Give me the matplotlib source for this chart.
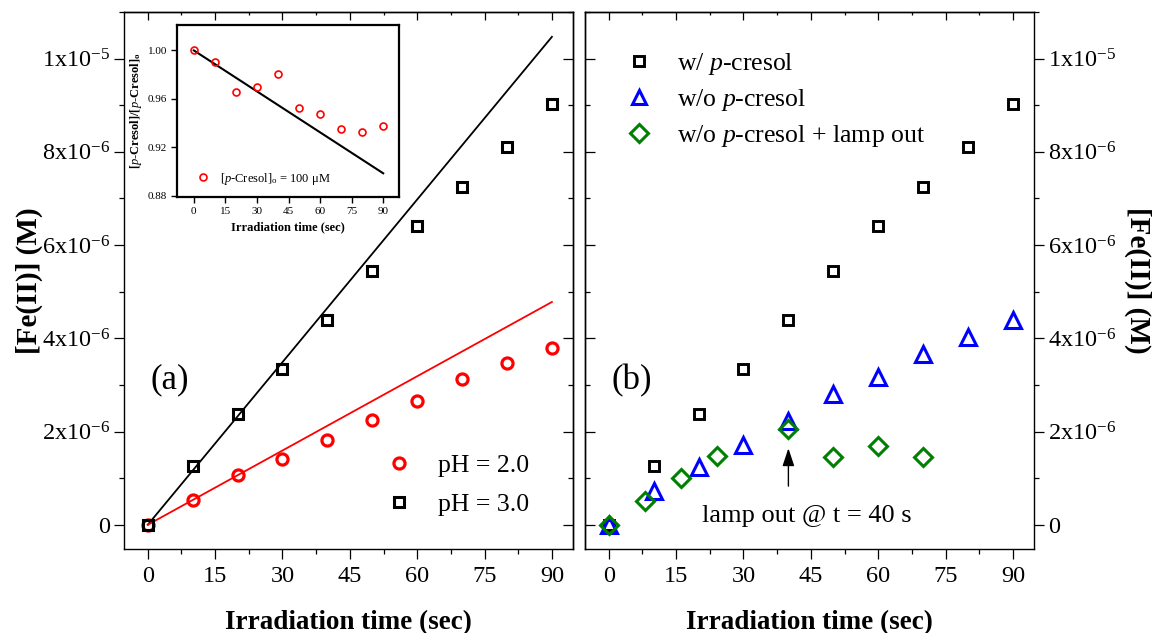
import numpy as np
import matplotlib
matplotlib.use("Agg")
import matplotlib.pyplot as plt
from matplotlib.ticker import MultipleLocator, FuncFormatter

plt.rcParams['font.family'] = ['Liberation Serif', 'DejaVu Serif']
plt.rcParams['mathtext.fontset'] = 'custom'
plt.rcParams['mathtext.rm'] = 'Liberation Serif'
plt.rcParams['mathtext.it'] = 'Liberation Serif:italic'
plt.rcParams['mathtext.bf'] = 'Liberation Serif:bold'
plt.rcParams['mathtext.default'] = 'regular'
plt.rcParams['axes.linewidth'] = 1.0

# ---- data ----
time_s = [0, 10, 20, 30, 40, 50, 60, 70, 80, 90]
fe_ph3 = [0.0, 1.25e-6, 2.38e-6, 3.35e-6, 4.40e-6, 5.44e-6, 6.41e-6, 7.25e-6, 8.11e-6, 9.03e-6]
fe_ph2 = [0.0, 0.54e-6, 1.075e-6, 1.41e-6, 1.81e-6, 2.24e-6, 2.65e-6, 3.12e-6, 3.46e-6, 3.80e-6]
slope_ph3 = 1.163e-7   # initial-rate fit, M/s
slope_ph2 = 5.31e-8

fe_no_cresol = [0.0, 0.73e-6, 1.23e-6, 1.71e-6, 2.22e-6, 2.81e-6, 3.17e-6, 3.67e-6, 4.03e-6, 4.39e-6]
time_lamp_out = [0, 8, 16, 24, 40, 50, 60, 70]
fe_lamp_out = [0.0, 0.52e-6, 1.00e-6, 1.48e-6, 2.06e-6, 1.45e-6, 1.70e-6, 1.46e-6]

cresol_ratio = [1.000, 0.9903, 0.9659, 0.9695, 0.9802, 0.9527, 0.9475, 0.9351, 0.9324, 0.9376]
cresol_slope = -1.127e-3   # per s

y_ticks = [0, 2e-6, 4e-6, 6e-6, 8e-6, 1e-5]
y_tick_labels = ['0', r'$2x10^{-6}$', r'$4x10^{-6}$', r'$6x10^{-6}$', r'$8x10^{-6}$', r'$1x10^{-5}$']
x_ticks = [0, 15, 30, 45, 60, 75, 90]

W, H = 1156, 633
fig = plt.figure(figsize=(W / 100, H / 100), dpi=100)


def frac(x0, y0, x1, y1):
    return [x0 / W, 1 - y1 / H, (x1 - x0) / W, (y1 - y0) / H]


axL = fig.add_axes(frac(124, 12, 573, 549))
axR = fig.add_axes(frac(585, 12, 1034, 549))

tick_fs = 17.5
MAJ, MIN = 7, 3.5
for ax in (axL, axR):
    ax.set_xlim(-5.3, 94.7)
    ax.set_ylim(-0.52e-6, 11.0e-6)
    ax.set_xticks(x_ticks)
    ax.xaxis.set_minor_locator(MultipleLocator(7.5))
    ax.yaxis.set_minor_locator(MultipleLocator(1e-6))
    ax.set_xlabel('Irradiation time (sec)', fontsize=19.5, fontweight='bold', labelpad=17)
    ax.tick_params(axis='x', which='both', direction='out', top=False, labelsize=tick_fs, pad=5, width=0.9)
    ax.tick_params(axis='x', which='major', length=MAJ)
    ax.tick_params(axis='x', which='minor', length=MIN)
    sx = ax.secondary_xaxis('top')
    sx.set_xticks(x_ticks)
    sx.xaxis.set_minor_locator(MultipleLocator(7.5))
    sx.tick_params(which='both', direction='in', labeltop=False, width=0.9)
    sx.tick_params(which='major', length=6)
    sx.tick_params(which='minor', length=2.5)

# left panel y axis: labels on left, inward ticks on right
axL.set_yticks(y_ticks)
axL.set_yticklabels(y_tick_labels)
axL.tick_params(axis='y', which='both', direction='out', right=False, labelsize=tick_fs, width=0.9, pad=3)
axL.tick_params(axis='y', which='major', length=MAJ)
axL.tick_params(axis='y', which='minor', length=MIN)
syL = axL.secondary_yaxis('right')
syL.set_yticks(y_ticks)
syL.yaxis.set_minor_locator(MultipleLocator(1e-6))
syL.tick_params(which='both', direction='in', labelright=False, width=0.9)
syL.tick_params(which='major', length=MAJ)
syL.tick_params(which='minor', length=MIN)
axL.set_ylabel('[Fe(II)] (M)', fontsize=21, fontweight='bold', labelpad=-1)

# right panel y axis: labels on right, inward ticks on left
axR.yaxis.tick_right()
axR.yaxis.set_label_position('right')
axR.set_yticks(y_ticks)
axR.set_yticklabels(y_tick_labels)
axR.tick_params(axis='y', which='both', direction='out', left=False, labelsize=tick_fs, width=0.9, pad=3)
axR.tick_params(axis='y', which='major', length=MAJ)
axR.tick_params(axis='y', which='minor', length=MIN)
syR = axR.secondary_yaxis('left')
syR.set_yticks(y_ticks)
syR.yaxis.set_minor_locator(MultipleLocator(1e-6))
syR.tick_params(which='both', direction='in', labelleft=False, width=0.9)
syR.tick_params(which='major', length=MAJ)
syR.tick_params(which='minor', length=MIN)
axR.set_ylabel('[Fe(II)] (M)', fontsize=21, fontweight='bold', rotation=270, labelpad=25)

t = np.array(time_s, dtype=float)

# ---- panel (a) ----
axL.plot([0, 90], [0, slope_ph3 * 90], color='black', lw=1.3, zorder=2)
axL.plot([0, 90], [0, slope_ph2 * 90], color='red', lw=1.3, zorder=2)
axL.plot(t, fe_ph2, 'o', ms=8, mfc='none', mec='red', mew=2.3, label='pH = 2.0', zorder=3)
axL.plot(t, fe_ph3, 's', ms=7, mfc='none', mec='black', mew=2.2, label='pH = 3.0', zorder=4)
axL.text(5.0, 3.1e-6, '(a)', fontsize=25, ha='center', va='center')
legL = axL.legend(loc='lower right', bbox_to_anchor=(0.925, 0.043), frameon=False,
                  fontsize=18.5, handlelength=1.0, handletextpad=1.0, labelspacing=0.6,
                  borderaxespad=0)
legL.legend_handles[0].set_markersize(8)
legL.legend_handles[1].set_markersize(6.5)

# ---- panel (b) ----
axR.plot(t, fe_ph3, 's', ms=7, mfc='none', mec='black', mew=2.1, label='w/ $\\it{p}$-cresol', zorder=3)
axR.plot(t, fe_no_cresol, '^', ms=11, mfc='none', mec='blue', mew=2.2, label='w/o $\\it{p}$-cresol', zorder=3)
axR.plot(time_lamp_out, fe_lamp_out, 'D', ms=9.5, mfc='none', mec='green', mew=2.2,
         label='w/o $\\it{p}$-cresol + lamp out', zorder=4)
axR.text(5.1, 3.1e-6, '(b)', fontsize=25, ha='center', va='center')
axR.annotate('', xy=(40, 1.70e-6), xytext=(40, 0.77e-6),
             arrowprops=dict(arrowstyle='-|>,head_length=0.6,head_width=0.2',
                             color='black', lw=1.0, mutation_scale=18))
axR.text(44.2, 0.19e-6, 'lamp out @ t = 40 s', fontsize=19, ha='center', va='center')
legR = axR.legend(loc='upper left', bbox_to_anchor=(0.068, 0.946), frameon=False,
                  fontsize=18.5, handlelength=1.0, handletextpad=1.0, labelspacing=0.38,
                  borderaxespad=0)
legR.legend_handles[0].set_markersize(7)
legR.legend_handles[1].set_markersize(10)
legR.legend_handles[2].set_markersize(9)

# ---- inset: p-cresol decay ----
axI = fig.add_axes(frac(177, 25, 399, 197))
for s in axI.spines.values():
    s.set_linewidth(1.6)
axI.set_xlim(-8, 97.5)
axI.set_ylim(0.879, 1.021)
axI.set_xticks(x_ticks)
axI.set_yticks([0.88, 0.92, 0.96, 1.00])
axI.yaxis.set_major_formatter(FuncFormatter(lambda v, p: f'{v:.2f}'))
axI.tick_params(which='both', direction='out', labelsize=8, length=4, width=1.0, pad=3)
axI.plot([0, 90], [1.0, 1.0 + cresol_slope * 90], color='black', lw=1.5)
axI.plot(t, cresol_ratio, 'o', ms=5, mfc='none', mec='red', mew=1.2,
         label='[$\\it{p}$-Cresol]$_o$ = 100 $\\mu$M')
axI.legend(loc='lower left', bbox_to_anchor=(0.07, 0.03), frameon=False, fontsize=9,
           handlelength=0.8, handletextpad=1.0, borderaxespad=0)
axI.set_xlabel('Irradiation time (sec)', fontsize=9, fontweight='bold', labelpad=4)
axI.set_ylabel('[$\\it{p}$-Cresol]/[$\\it{p}$-Cresol]$_o$', fontsize=9, fontweight='bold', labelpad=3)

fig.savefig('out.png', dpi=100)
